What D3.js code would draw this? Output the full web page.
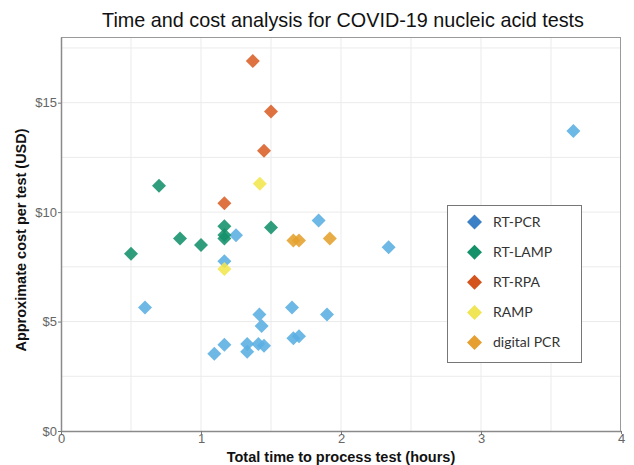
<!DOCTYPE html>
<html><head><meta charset="utf-8">
<script src="https://cdn.jsdelivr.net/npm/d3@7"></script>
<style>body{margin:0;background:#fff}svg{display:block}</style>
</head><body>
<svg id="c" width="634" height="465"></svg>
<script>
const categories = ["RT-PCR","RT-LAMP","RT-RPA","RAMP","digital PCR"];
const pointColors = ["#5AAEE3","#13916A","#D95E26","#F1E64C","#E5A12C"];
const legendColors = ["#3C80C6","#159169","#D4541E","#EFE556","#E6A031"];
const rtpcr = [[3.66,13.7],[1.84,9.62],[2.34,8.4],[1.25,8.94],[1.167,7.75],[0.6,5.64],[1.417,5.32],[1.433,4.8],[1.65,5.64],[1.9,5.32],[1.167,3.94],[1.095,3.53],[1.33,3.97],[1.33,3.62],[1.41,3.97],[1.45,3.89],[1.66,4.24],[1.70,4.33]];
const rtlamp = [[0.5,8.1],[0.7,11.2],[0.85,8.8],[1.0,8.5],[1.167,9.35],[1.167,8.95],[1.167,8.8],[1.5,9.3]];
const rtrpa = [[1.37,16.9],[1.5,14.6],[1.45,12.8],[1.167,10.4]];
const ramp = [[1.42,11.3],[1.167,7.4]];
const dpcr = [[1.66,8.7],[1.7,8.7],[1.92,8.8]];
const seriesData = [rtpcr, rtlamp, rtrpa, ramp, dpcr];
const xTicks = [0,1,2,3,4];
const yTicks = [0,5,10,15];
const title = "Time and cost analysis for COVID-19 nucleic acid tests";
const xTitle = "Total time to process test (hours)";
const yTitle = "Approximate cost per test (USD)";

const svg = d3.select("#c");
const L=61, R=621, T=37, B=431;
const x = d3.scaleLinear().domain([0,4]).range([L,R]);
const y = d3.scaleLinear().domain([0,18]).range([B,T]);

// grid
const g = svg.append("g");
g.selectAll("line.vx").data(d3.range(0.5,4,0.5)).join("line")
 .attr("x1",d=>x(d)).attr("x2",d=>x(d)).attr("y1",T).attr("y2",B)
 .attr("stroke","#ebebeb").attr("stroke-width",1);
g.selectAll("line.hy").data(d3.range(2.5,18,2.5)).join("line")
 .attr("y1",d=>y(d)).attr("y2",d=>y(d)).attr("x1",L).attr("x2",R)
 .attr("stroke","#ebebeb").attr("stroke-width",1);
// panel border top/right
svg.append("line").attr("x1",L).attr("x2",R).attr("y1",T+0.5).attr("y2",T+0.5).attr("stroke","#9a9a9a");
svg.append("line").attr("x1",R-0.5).attr("x2",R-0.5).attr("y1",T).attr("y2",B).attr("stroke","#9a9a9a");

// axes
const xa = svg.append("g").attr("transform",`translate(0,${B})`)
 .call(d3.axisBottom(x).tickValues(xTicks).tickFormat(d3.format("d")).tickSize(3).tickSizeOuter(0));
const ya = svg.append("g").attr("transform",`translate(${L},0)`)
 .call(d3.axisLeft(y).tickValues(yTicks).tickFormat(d=>"$"+d).tickSize(3).tickSizeOuter(0));
[xa,ya].forEach(a=>{
  a.select(".domain").attr("stroke","#8a8a8a").attr("stroke-width",1.5);
  a.selectAll(".tick line").attr("stroke","#777");
  a.selectAll(".tick text").attr("fill","#666").attr("font-family","Liberation Sans, Arial, sans-serif").attr("font-size",13);
});
xa.selectAll(".tick text").attr("dy","0.71em").attr("y",3);
ya.selectAll(".tick text").attr("x",-4);

// points
const sq = (s)=>`M0,${-s}L${s},0L0,${s}L${-s},0Z`;
seriesData.forEach((data,i)=>{
  svg.append("g").selectAll("path").data(data).join("path")
   .attr("d",sq(7))
   .attr("transform",d=>`translate(${x(d[0])},${y(d[1])})`)
   .attr("fill",pointColors[i]).attr("fill-opacity",0.88);
});

// titles
svg.append("text").attr("x",343).attr("y",27).attr("text-anchor","middle")
 .attr("font-family","Liberation Sans, Arial, sans-serif").attr("font-size",19.8).attr("fill","#111").text(title);
svg.append("text").attr("x",(L+R)/2).attr("y",462).attr("text-anchor","middle")
 .attr("font-family","Liberation Sans, Arial, sans-serif").attr("font-size",14.5).attr("font-weight","bold").attr("fill","#111").text(xTitle);
svg.append("text").attr("transform",`translate(26,240) rotate(-90)`).attr("text-anchor","middle")
 .attr("font-family","Liberation Sans, Arial, sans-serif").attr("font-size",14.5).attr("font-weight","bold").attr("fill","#111").text(yTitle);

// legend
const lg = svg.append("g");
lg.append("rect").attr("x",447.5).attr("y",205.5).attr("width",134).attr("height",157)
 .attr("fill","#fff").attr("stroke","#777").attr("stroke-width",1);
const ly = d3.scalePoint().domain(categories).range([222,342.5]);
categories.forEach((c,i)=>{
  lg.append("path").attr("d",sq(7.5)).attr("transform",`translate(474.5,${ly(c)})`).attr("fill",legendColors[i]);
  lg.append("text").attr("x",493).attr("y",ly(c)).attr("dy","0.35em")
   .attr("font-family","Lato, Carlito, sans-serif").attr("font-size",14).attr("fill","#333").text(c);
});
</script>
</body></html>
